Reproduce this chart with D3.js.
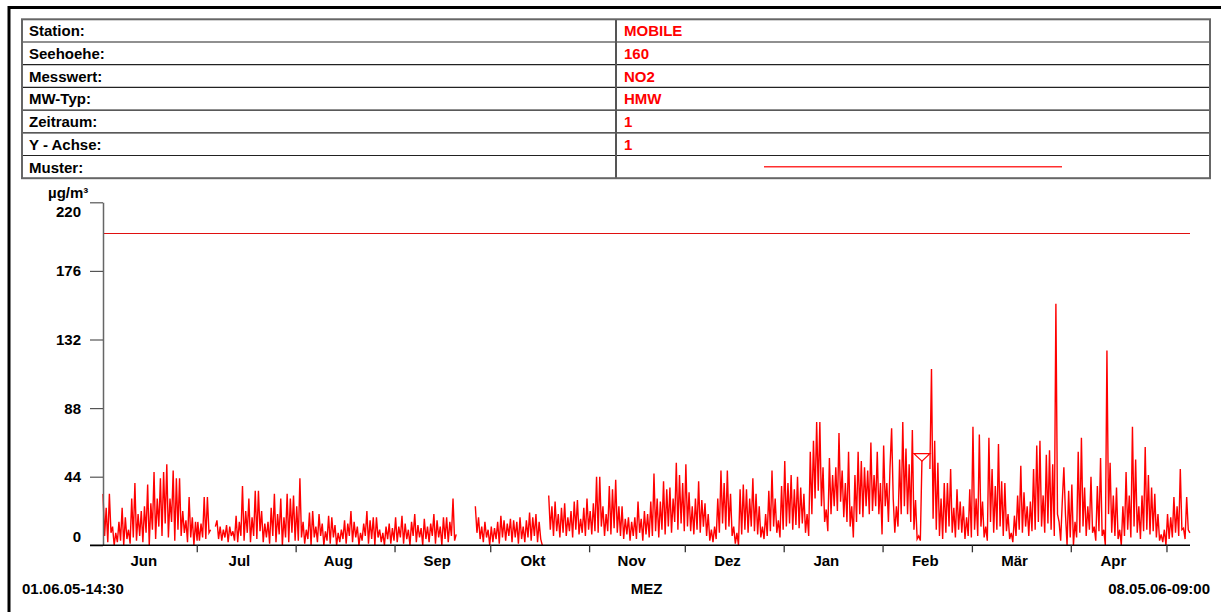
<!DOCTYPE html>
<html>
<head>
<meta charset="utf-8">
<script src="https://cdn.jsdelivr.net/npm/d3@7"></script>
<style>
    html, body { margin: 0; padding: 0; background: #fff; }
    svg text { font-family: "Liberation Sans", Arial, sans-serif; font-weight: bold; font-size: 15px; }
</style>
</head>
<body>
<div id="chart"></div>
<script>
// Header table
const infoLabels = ['Station:', 'Seehoehe:', 'Messwert:', 'MW-Typ:', 'Zeitraum:', 'Y - Achse:', 'Muster:'];
const infoValues = ['MOBILE', '160', 'NO2', 'HMW', '1', '1', ''];

// Axis
const yTicks = [0, 44, 88, 132, 176, 220];
const monthLabels = ['Jun', 'Jul', 'Aug', 'Sep', 'Okt', 'Nov', 'Dez', 'Jan', 'Feb', 'Mär', 'Apr'];
const period = ['2005-06-01 14:30', '2006-05-08 09:00'];
const footer = ['01.06.05-14:30', 'MEZ', '08.05.06-09:00'];
const limitValue = 200;

// NO2 half-hourly series at ~12 h steps (null = no data)
const jun05 = [33,6, 24,2, 33,8, 12,0, 8,2, 15,3, 24,0, 18,4, 10,1, 30,5,
               40,3, 20,6, 22,2, 25,8, 39,0, 27,10, 47,4, 30,12, 43,6, 47,14,
               52,5, 30,15, 48,3, 43,10, 43,6, 22,8, 16,2, 31,5, 18,0, 15,3];
const jul05 = [15,3, 14,5, 31,4, 31,8, 10,null, null,12, 16,4, 12,3, 10,5, 13,2,
               12,6, 9,3, 19,2, 15,6, 38,3, 22,8, 30,2, 18,6, 35,4, 35,9,
               22,2, 14,5, 15,1, 24,6, 33,2, 20,7, 30,0, 18,5, 33,2, 30,8, 32,3];
const aug05 = [25,3, 43,5, 15,1, 10,4, 21,0, 22,5, 12,2, 20,6, 14,0, 9,3,
               19,1, 18,5, 13,0, 8,2, 10,4, 16,1, 14,6, 22,2, 15,5, 12,0,
               8,3, 14,6, 22,1, 16,4, 18,0, 18,5, 10,2, 8,0, 12,4, 14,1, 11,3];
const sep05 = [18,2, 12,5, 19,1, 14,4, 10,0, 15,6, 20,2, 13,5, 11,0, 17,4,
               12,2, 14,6, 20,1, 16,5, 12,0, 18,4, 18,2, 15,6, 30,3, 7,null,
               null,null, null,null, null,null, null,null, null,null,
               25,8, 18,4, 12,2, 15,5, 10,0];
const okt05 = [12,2, 11,4, 15,1, 19,5, 16,3, 14,6, 17,2, 16,5, 15,1, 18,4,
               12,2, 16,5, 21,3, 18,6, 20,2, 15,4, 0,null, null,null, 32,10, 25,6,
               28,9, 20,5, 24,8, 27,6, 18,9, 22,5, 28,10, 29,7, 17,8, 24,6, 30,10];
const nov05 = [22,7, 27,9, 44,8, 44,12, 25,6, 20,9, 38,7, 36,11, 42,8, 25,6,
               25,4, 17,7, 18,3, 15,6, 18,4, 28,8, 17,3, 22,7, 20,5, 28,6,
               46,9, 30,5, 28,10, 41,7, 36,12, 37,8, 30,15, 53,10, 45,14, 40,9];
const dez05 = [52,12, 34,9, 25,7, 30,10, 41,8, 29,12, 27,6, 20,3, 10,2, 12,4,
               30,8, 48,14, 40,10, 48,12, 33,6, 12,1, 8,0, 36,7, 39,10, 36,8,
               30,12, 43,9, 33,7, 25,5, 12,4, 20,6, 35,9, 48,12, 30,8, 16,5, 38,10];
const jan06 = [54,12, 40,14, 45,10, 36,13, 44,11, 37,14, 33,8, 20,6, 60,20, 67,30,
               79,35, 79,25, 50,15, 23,9, 56,20, 45,25, 50,22, 72,28, 48,18, 40,15,
               60,12, 25,5, 45,15, 60,20, 54,18, 50,25, 48,20, 66,22, 45,25, 60,20, 40,7];
const feb06 = [64,25, 40,15, 50,75, 30,8, 25,12, 55,20, 79,25, 62,20, 52,15, 74,10,
               29,4, 6,3, 54,null, null,null, null,49, 113,17, 67,10, 53,6, 30,4, 40,8,
               40,12, 49,8, 24,5, 36,10, 28,8, 25,4, 18,6, 36,5];
const mar06 = [76,10, 30,6, 71,12, 28,5, 12,3, 69,15, 49,8, 38,10, 65,12, 41,6,
               40,9, 20,4, 8,2, 19,6, 32,10, 51,8, 34,12, 25,6, 28,9, 49,10,
               64,15, 67,12, 32,8, 58,14, 61,10, 52,6, 155,20, 15,3, 28,50, 20,0, 35,5];
const apr06 = [39,0, 15,5, 60,8, 69,12, 37,6, 25,10, 44,8, 12,3, 38,9, 56,6,
               10,0, 125,20, 53,8, 32,6, 37,4, 10,0, 25,6, 47,10, 32,5, 76,12,
               55,8, 25,4, 32,9, 63,10, 45,7, 37,9, 33,5, 20,3, 7,2, 10,0];
const mai06 = [20,4, 18,5, 31,8, 25,6, 49,10, 11,4, 31,10, 8];

const blocks = [
    ['2005-06-01 14:30', jun05], ['2005-07-01 08:00', jul05], ['2005-08-01 08:00', aug05],
    ['2005-09-01 08:00', sep05], ['2005-10-01 08:00', okt05], ['2005-11-01 08:00', nov05],
    ['2005-12-01 08:00', dez05], ['2006-01-01 08:00', jan06], ['2006-02-01 08:00', feb06],
    ['2006-03-01 08:00', mar06], ['2006-04-01 08:00', apr06], ['2006-05-01 08:00', mai06]
];

// marker shown above the last value before the February gap
const markers = [['2006-02-13 08:00', 54]];

const parse = d3.timeParse('%Y-%m-%d %H:%M');
const HALF_DAY = 12 * 3600 * 1000;

const series = [];
blocks.forEach(([start, vals]) => {
    const t0 = parse(start).getTime();
    vals.forEach((v, i) => series.push({ t: new Date(t0 + i * HALF_DAY), v: v }));
});

const width = 1221, height = 612;
const svg = d3.select('#chart').append('svg')
    .attr('width', width)
    .attr('height', height);

// outer frame
svg.append('rect')
    .attr('x', 9).attr('y', 7.5)
    .attr('width', 1400).attr('height', 800)
    .attr('fill', 'none')
    .attr('stroke', '#000')
    .attr('stroke-width', 3);

// info table
const tbl = { x: 22, y: 19.3, w: 1188, rowH: 22.7, split: 616 };
const table = svg.append('g');

table.selectAll('line.row')
    .data(d3.range(1, infoLabels.length))
    .enter().append('line')
    .attr('x1', tbl.x).attr('x2', tbl.x + tbl.w)
    .attr('y1', i => tbl.y + i * tbl.rowH)
    .attr('y2', i => tbl.y + i * tbl.rowH)
    .attr('stroke', '#222')
    .attr('stroke-width', 1.2);

table.append('line')
    .attr('x1', tbl.split).attr('x2', tbl.split)
    .attr('y1', tbl.y).attr('y2', tbl.y + infoLabels.length * tbl.rowH)
    .attr('stroke', '#555')
    .attr('stroke-width', 2);

table.append('rect')
    .attr('x', tbl.x).attr('y', tbl.y)
    .attr('width', tbl.w).attr('height', infoLabels.length * tbl.rowH)
    .attr('fill', 'none')
    .attr('stroke', '#666')
    .attr('stroke-width', 2);

table.selectAll('text.lab')
    .data(infoLabels)
    .enter().append('text')
    .attr('x', 29)
    .attr('y', (d, i) => tbl.y + i * tbl.rowH + 17)
    .attr('fill', '#000')
    .text(d => d);

table.selectAll('text.val')
    .data(infoValues)
    .enter().append('text')
    .attr('x', 624)
    .attr('y', (d, i) => tbl.y + i * tbl.rowH + 17)
    .attr('fill', '#ff0000')
    .text(d => d);

// pattern sample in the "Muster" row
table.append('line')
    .attr('x1', 764).attr('x2', 1062)
    .attr('y1', tbl.y + 6 * tbl.rowH + 11.2)
    .attr('y2', tbl.y + 6 * tbl.rowH + 11.2)
    .attr('stroke', '#ff3030')
    .attr('stroke-width', 1.4);

// scales
const x = d3.scaleTime()
    .domain([parse(period[0]), parse(period[1])])
    .range([103, 1190]);

const y = d3.scaleLinear()
    .domain([0, 220])
    .range([545.3, 202.3]);

// limit line
svg.append('line')
    .attr('x1', x.range()[0]).attr('x2', x.range()[1])
    .attr('y1', Math.round(y(limitValue)) + 0.5).attr('y2', Math.round(y(limitValue)) + 0.5)
    .attr('stroke', '#e01010')
    .attr('stroke-width', 1.2)
    .attr('shape-rendering', 'crispEdges');

// data line
const line = d3.line()
    .defined(d => d.v !== null)
    .x(d => x(d.t))
    .y(d => y(d.v));

svg.append('path')
    .datum(series)
    .attr('d', line)
    .attr('fill', 'none')
    .attr('stroke', '#ff0000')
    .attr('stroke-width', 1.4)
    .attr('stroke-linejoin', 'miter');

// markers
svg.selectAll('path.marker')
    .data(markers)
    .enter().append('path')
    .attr('d', d => {
        const px = x(parse(d[0])), py = y(d[1]);
        return `M${px},${py}L${px - 8},${py - 7.4}L${px + 8},${py - 7.4}Z`;
    })
    .attr('fill', 'none')
    .attr('stroke', '#ff0000')
    .attr('stroke-width', 1.2);

// y axis
const yAxis = svg.append('g')
    .attr('transform', 'translate(103,0)')
    .call(d3.axisLeft(y).tickValues(yTicks).tickSize(13).tickSizeOuter(0).tickPadding(9));

yAxis.select('.domain').attr('stroke', '#666').attr('stroke-width', 1.5);
yAxis.selectAll('.tick line').attr('stroke', '#555').attr('stroke-width', 1.2);
yAxis.selectAll('.tick text')
    .attr('fill', '#000')
    .style('font-size', '15px')
    .attr('dy', d => d === 220 ? '0.95em' : (d === 0 ? '-0.25em' : '0.33em'));
yAxis.attr('font-family', null).attr('font-size', null);

svg.append('text')
    .attr('x', 48).attr('y', 198)
    .text('µg/m³');

// x axis
const monthStarts = d3.timeMonth.range(new Date(2005, 6, 1), new Date(2006, 4, 2));
const xAxis = svg.append('g')
    .attr('transform', 'translate(0,545.3)')
    .call(d3.axisBottom(x).tickValues(monthStarts).tickSize(7).tickSizeOuter(0).tickFormat(''));

xAxis.select('.domain')
    .attr('d', `M90,0H${x.range()[1]}`)
    .attr('stroke', '#000')
    .attr('stroke-width', 1.5);
xAxis.selectAll('.tick line').attr('stroke', '#333').attr('stroke-width', 1.3);

svg.selectAll('text.month')
    .data(monthLabels)
    .enter().append('text')
    .attr('x', (d, i) => x(new Date(2005, 5 + i, 15)) - 2)
    .attr('y', 566)
    .attr('text-anchor', 'middle')
    .text(d => d);

// footer
svg.append('text').attr('x', 22).attr('y', 594).text(footer[0]);
svg.append('text').attr('x', 646.5).attr('y', 594).attr('text-anchor', 'middle').text(footer[1]);
svg.append('text').attr('x', 1210).attr('y', 594).attr('text-anchor', 'end').text(footer[2]);
</script>
</body>
</html>
